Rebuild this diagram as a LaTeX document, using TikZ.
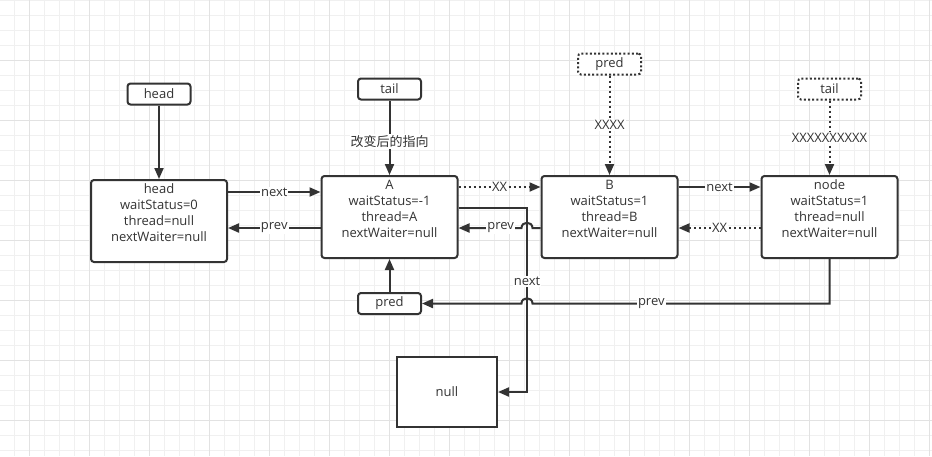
\documentclass[tikz,border=0pt]{standalone}
\usepackage{fontspec}
\setmainfont{Open Sans}
\newfontfamily\cjk{Noto Sans CJK SC}
\usetikzlibrary{arrows.meta,calc}
\definecolor{ink}{HTML}{333333}
\definecolor{gridminor}{HTML}{F0F0F0}
\definecolor{gridmajor}{HTML}{E2E2E2}
\tikzset{
  every node/.append style={font=\fontsize{13}{16}\selectfont, text=ink},
  qnode/.style={draw=ink, line width=2pt, rounded corners=3pt, fill=white,
    minimum width=136pt, minimum height=82pt, align=center, inner sep=0pt},
  ptrbox/.style={draw=ink, line width=2pt, rounded corners=3pt, fill=white,
    minimum width=63pt, minimum height=21pt, inner sep=0pt},
  ptrdot/.style={ptrbox, dash pattern=on 2pt off 2.2pt},
  link/.style={draw=ink, line width=2pt, -{Triangle[length=11pt,width=9pt]}},
  dlink/.style={link, dash pattern=on 2pt off 3pt},
  lbl/.style={fill=white, inner sep=1pt}
}
\newcommand{\hop}[1]{-- ($(#1)+(5.5,0)$) .. controls +(0,-7) and +(0,-7) .. ($(#1)+(-5.5,0)$)}

\begin{document}
\begin{tikzpicture}[x=1pt,y=-1pt]
  \fill[white] (0,0) rectangle (932,456);
  \useasboundingbox (0,0) rectangle (932,456);
  % grid
  \foreach \x in {14,29,...,929} \draw[gridminor,line width=0.8pt] (\x,0) -- (\x,456);
  \foreach \y in {0,15,...,450} \draw[gridminor,line width=0.8pt] (0,\y) -- (932,\y);
  \foreach \x in {29,89,...,929} \draw[gridmajor,line width=0.8pt] (\x,0) -- (\x,456);
  \foreach \y in {60,120,...,420} \draw[gridmajor,line width=0.8pt] (0,\y) -- (932,\y);

  % queue nodes
  \node[qnode] (head) at (159,221) {head\\waitStatus=0\\thread=null\\nextWaiter=null\\~};
  \node[qnode] (A) at (389.5,217) {A\\waitStatus=-1\\thread=A\\nextWaiter=null\\~};
  \node[qnode] (B) at (609.5,217) {B\\waitStatus=1\\thread=B\\nextWaiter=null\\~};
  \node[qnode] (newnode) at (829.5,217) {node\\waitStatus=1\\thread=null\\nextWaiter=null\\~};
  \node[draw=ink, line width=2pt, fill=white, minimum width=100pt, minimum height=70pt] (nullbox) at (447,392) {null};

  % pointers
  \node[ptrbox] (headptr) at (159,94) {head};
  \node[ptrbox] (tailptr) at (389.5,89) {tail};
  \node[ptrdot] (oldpred) at (609.5,64) {pred};
  \node[ptrdot] (oldtail) at (829.5,89) {tail};
  \node[ptrbox] (predptr) at (389.5,303.5) {pred};

  % rows and the column of A's next
  \coordinate (hnext) at (0,192);
  \coordinate (hprev) at (0,228);
  \coordinate (top) at (0,187);
  \coordinate (bot) at (0,228);
  \coordinate (anext) at (0,208);
  \coordinate (low) at (0,303.5);
  \coordinate (nullrow) at (0,392);
  \coordinate (col) at (527,0);

  \draw[link] (headptr) -- (head);
  \draw[link] (tailptr) -- node[lbl,pos=0.55]{\cjk 改变后的指向} (A);
  \draw[link] (predptr) -- (A);
  \draw[dlink] (oldpred) -- node[lbl]{XXXX} (B);
  \draw[dlink] (oldtail) -- node[lbl]{XXXXXXXXXX} (newnode);

  \draw[link] (head.east |- hnext) -- node[lbl]{next} (A.west |- hnext);
  \draw[link] (A.west |- hprev) -- node[lbl]{prev} (head.east |- hprev);
  \draw[dlink] (A.east |- top) -- node[lbl]{XX} (B.west |- top);
  \draw[link] (B.east |- top) -- node[lbl]{next} (newnode.west |- top);
  \draw[dlink] (newnode.west |- bot) -- node[lbl]{XX} (B.east |- bot);

  \draw[link] (A.east |- anext) -- (col |- anext) -- node[lbl,pos=0.4]{next} (col |- nullrow) -- (nullbox.east);
  \draw[link] (B.west |- bot) \hop{col |- bot} -- node[lbl,pos=0.33]{prev} (A.east |- bot);
  \draw[link] (newnode.south) -- (newnode.south |- low) -- node[lbl,pos=0.6]{prev} ($(col |- low)+(5.5,0)$)
    .. controls +(0,-7) and +(0,-7) .. ($(col |- low)+(-5.5,0)$) -- (predptr.east);
\end{tikzpicture}
\end{document}
